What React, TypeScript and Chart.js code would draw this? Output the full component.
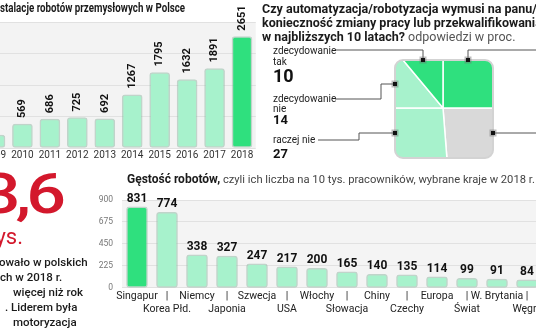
import React, { useEffect, useRef } from 'react';
import { Chart, registerables } from 'chart.js';

Chart.register(...registerables);

// ---------- data ----------
const installYears = ['2009', '2010', '2011', '2012', '2013', '2014', '2015', '2016', '2017', '2018'];
const installValues = [310, 569, 686, 725, 692, 1267, 1795, 1632, 1891, 2651];
const installGridTicks = [0, 750, 1500, 2250, 3000];

const densityCountries = ['Singapur', 'Korea Płd.', 'Niemcy', 'Japonia', 'Szwecja', 'USA', 'Włochy', 'Słowacja', 'Chiny', 'Czechy', 'Europa', 'Świat', 'W. Brytania', 'Węgry'];
const densityValues = [831, 774, 338, 327, 247, 217, 200, 165, 140, 135, 114, 99, 91, 84];
const densityTicks = [0, 225, 450, 675, 900];

const surveyAnswers = ['zdecydowanie tak', 'raczej tak', 'zdecydowanie nie', 'raczej nie', 'trudno powiedzieć'];
const surveyValues = [10, 25, 14, 27, 24];

// ---------- styles ----------
const GREEN = '#2fe07e';
const MINT = '#a7f2cc';
const CELL_GREY = '#d9d9d9';
const BAR_BORDER = 'rgba(150,185,168,0.55)';
const FONT = 'Roboto';

const panelBg = (color: string) => ({
  id: 'panelBg',
  beforeDraw(chart: any) {
    const { ctx, chartArea: a } = chart;
    ctx.save();
    ctx.fillStyle = color;
    ctx.fillRect(a.left, a.top, a.right - a.left, a.bottom - a.top);
    ctx.restore();
  },
});

function surveyLayout() {
  const [tak, rTak, zNie, rNie, trudno] = surveyValues;
  const total = surveyValues.reduce((s, v) => s + v, 0);
  const topShare = tak + rTak + zNie;
  const h = (topShare / total) * 100;
  const xb = 100 - (rTak / topShare) * 100;
  const t = xb - (2 * (tak / total) * 10000) / h;
  const xd = (rNie / (rNie + trudno)) * 100;
  return [
    { pts: [[t, 0], [xb, 0], [xb, h]], color: GREEN, anchor: [(t + xb) / 2, 0] },
    { pts: [[xb, 0], [100, 0], [100, h], [xb, h]], color: GREEN, anchor: [(xb + 100) / 2, 0] },
    { pts: [[0, 0], [t, 0], [xb, h], [0, h]], color: MINT, anchor: [0, h / 2] },
    { pts: [[0, h], [xb, h], [xd, 100], [0, 100]], color: MINT, anchor: [0, (h + 100) / 2] },
    { pts: [[xb, h], [100, h], [100, 100], [xd, 100]], color: CELL_GREY, anchor: [100, (h + 100) / 2] },
  ];
}

function InstallChart() {
  const ref = useRef<HTMLCanvasElement>(null);
  useEffect(() => {
    const labelsPlugin = {
      id: 'rotLabels',
      afterDatasetsDraw(chart: any) {
        const { ctx } = chart;
        const meta = chart.getDatasetMeta(0);
        meta.data.forEach((bar: any, i: number) => {
          ctx.save();
          ctx.translate(bar.x, bar.y - 6);
          ctx.rotate(-Math.PI / 2);
          ctx.font = `bold 11px ${FONT}`;
          ctx.fillStyle = '#111';
          ctx.textAlign = 'left';
          ctx.textBaseline = 'middle';
          ctx.fillText(String(installValues[i]), 0, 0);
          ctx.restore();
        });
      },
    };
    const chart = new Chart(ref.current as HTMLCanvasElement, {
      type: 'bar',
      data: {
        labels: installYears,
        datasets: [
          {
            data: installValues,
            backgroundColor: installValues.map((_, i) => (i === installValues.length - 1 ? GREEN : MINT)),
            borderColor: BAR_BORDER,
            borderWidth: 1.5,
            borderRadius: 3,
            borderSkipped: false,
            barThickness: 20,
          },
        ],
      },
      options: {
        responsive: false,
        animation: false,
        devicePixelRatio: 1,
        layout: { padding: { left: 11.25, right: 4.25, top: 22, bottom: 4 } },
        plugins: { legend: { display: false }, tooltip: { enabled: false } },
        scales: {
          x: {
            grid: { display: false, drawTicks: false },
            border: { display: false },
            ticks: { color: '#333', font: { family: FONT, size: 10 }, padding: 1, autoSkip: false, maxRotation: 0 },
          },
          y: {
            min: 0,
            max: 3000,
            afterBuildTicks: (s: any) => { s.ticks = installGridTicks.map((v) => ({ value: v })); },
            ticks: { display: false },
            grid: { color: '#e1e1e1', drawTicks: false },
            border: { display: false },
          },
        },
      },
      plugins: [panelBg('#f3f3f3'), labelsPlugin],
    } as any);
    return () => chart.destroy();
  }, []);
  return <canvas ref={ref} width={290} height={166} style={{ position: 'absolute', left: -30, top: 0 }} />;
}

function SurveyChart() {
  const ref = useRef<HTMLCanvasElement>(null);
  useEffect(() => {
    const cells = surveyLayout();
    const OX = 262, OY = 44;
    const framePlugin = {
      id: 'frame',
      beforeDatasetsDraw(chart: any) {
        const { ctx, chartArea: a } = chart;
        ctx.save();
        ctx.beginPath();
        ctx.roundRect(a.left, a.top, a.right - a.left, a.bottom - a.top, 8);
        ctx.clip();
      },
      afterDatasetsDraw(chart: any) {
        const { ctx, chartArea: a, scales } = chart;
        ctx.restore();
        ctx.save();
        ctx.strokeStyle = '#d3d3d3';
        ctx.lineWidth = 2;
        ctx.beginPath();
        ctx.roundRect(a.left, a.top, a.right - a.left, a.bottom - a.top, 8);
        ctx.stroke();
        const P = cells.map((c) => [scales.x.getPixelForValue(c.anchor[0]), scales.y.getPixelForValue(c.anchor[1])]);
        const px = (x: number) => x - OX;
        const py = (y: number) => y - OY;
        const paths: number[][][] = [
          [[px(335), py(50)], [P[0][0], py(50)], P[0]],
          [P[1], [P[1][0], py(50)], [px(540), py(50)]],
          [[px(335), py(99)], [px(381), py(99)], [px(381), P[2][1]], P[2]],
          [[px(318), py(140)], [px(359), py(140)], [px(359), P[3][1]], P[3]],
          [P[4], [px(540), P[4][1]]],
        ];
        ctx.strokeStyle = '#555';
        ctx.lineWidth = 1;
        paths.forEach((path) => {
          ctx.beginPath();
          path.forEach(([x, y], i) => (i === 0 ? ctx.moveTo(x, y) : ctx.lineTo(x, y)));
          ctx.stroke();
        });
        P.forEach(([x, y]) => {
          ctx.fillStyle = 'rgba(110,110,110,0.45)';
          ctx.fillRect(x - 3.5, y - 3.5, 7, 7);
          ctx.fillStyle = '#111';
          ctx.fillRect(x - 2, y - 2, 4, 4);
        });
        ctx.restore();
      },
    };
    const chart = new Chart(ref.current as HTMLCanvasElement, {
      type: 'scatter',
      data: {
        datasets: cells.map((c, i) => ({
          label: surveyAnswers[i],
          data: [...c.pts, c.pts[0]].map(([x, y]) => ({ x, y })),
          showLine: true,
          fill: 'shape',
          backgroundColor: c.color,
          borderColor: '#ffffff',
          borderWidth: 1.5,
          pointRadius: 0,
          tension: 0,
        })),
      },
      options: {
        responsive: false,
        animation: false,
        devicePixelRatio: 1,
        layout: { padding: { left: 133, right: 43, top: 16, bottom: 12 } },
        plugins: { legend: { display: false }, tooltip: { enabled: false } },
        scales: {
          x: { type: 'linear', min: 0, max: 100, display: false },
          y: { type: 'linear', min: 0, max: 100, reverse: true, display: false },
        },
      },
      plugins: [framePlugin],
    } as any);
    return () => chart.destroy();
  }, []);
  return <canvas ref={ref} width={274} height={126} style={{ position: 'absolute', left: 262, top: 44 }} />;
}

function DensityChart() {
  const ref = useRef<HTMLCanvasElement>(null);
  useEffect(() => {
    const valuePlugin = {
      id: 'valueLabels',
      afterDatasetsDraw(chart: any) {
        const { ctx } = chart;
        const meta = chart.getDatasetMeta(0);
        ctx.save();
        ctx.font = `bold 12px ${FONT}`;
        ctx.fillStyle = '#111';
        ctx.textAlign = 'center';
        ctx.textBaseline = 'bottom';
        meta.data.forEach((bar: any, i: number) => {
          ctx.fillText(String(densityValues[i]), bar.x, bar.y - 2);
        });
        ctx.restore();
      },
    };
    const chart = new Chart(ref.current as HTMLCanvasElement, {
      type: 'bar',
      data: {
        labels: densityCountries.map((c, i) => (i % 2 === 0 ? c : ['|', c])),
        datasets: [
          {
            data: densityValues,
            backgroundColor: densityValues.map((_, i) => (i === 0 ? GREEN : MINT)),
            borderColor: BAR_BORDER,
            borderWidth: 1.5,
            borderRadius: 3,
            borderSkipped: false,
            barThickness: 21,
          },
        ],
      },
      options: {
        responsive: false,
        animation: false,
        devicePixelRatio: 1,
        layout: { padding: { left: 0, right: 13, top: 15, bottom: 14 } },
        plugins: { legend: { display: false }, tooltip: { enabled: false } },
        scales: {
          x: {
            grid: { display: false, drawTicks: false },
            border: { display: false },
            ticks: {
              color: '#222',
              font: { family: FONT, size: 10.5, lineHeight: 1.24 },
              padding: 2,
              autoSkip: false,
              maxRotation: 0,
            },
          },
          y: {
            min: 0,
            max: 900,
            afterBuildTicks: (s: any) => { s.ticks = densityTicks.map((v) => ({ value: v })); },
            afterFit: (s: any) => { s.width = 27; },
            ticks: { color: '#777', font: { family: FONT, size: 8.5 }, padding: 9 },
            grid: { color: '#e1e1e1', drawTicks: false },
            border: { display: false },
          },
        },
      },
      plugins: [panelBg('#f4f4f4'), valuePlugin],
    } as any);
    return () => chart.destroy();
  }, []);
  return <canvas ref={ref} width={460} height={147} style={{ position: 'absolute', left: 95, top: 185 }} />;
}

const abs = (left: number, top: number, extra: any = {}) => ({
  position: 'absolute' as const,
  left,
  top,
  whiteSpace: 'nowrap' as const,
  fontFamily: FONT,
  ...extra,
});

export default function App() {
  const titleLine = { fontSize: 12.5, lineHeight: '14px', fontWeight: 700, color: '#1a1a1a' };
  const small = { fontSize: 10, lineHeight: '11px', color: '#222' };
  const para = { fontSize: 11.5, lineHeight: '15px', fontWeight: 500, color: '#1a1a1a' };
  return (
    <div style={{ position: 'fixed', left: 0, top: 0, width: 536, height: 332, overflow: 'hidden', background: '#fff', fontFamily: FONT }}>
      <InstallChart />
      <SurveyChart />
      <DensityChart />

      {/* top-left title */}
      <div style={abs(0, 1, { ...titleLine, fontSize: 13, transform: 'scaleX(0.75)', transformOrigin: 'left center' })}>
        <span style={{ position: 'absolute', right: '100%' }}>In</span>stalacje robotów przemysłowych w Polsce
      </div>

      {/* top-right title */}
      <div style={abs(262, 2, titleLine)}>Czy automatyzacja/robotyzacja wymusi na panu/pani</div>
      <div style={abs(262, 16, titleLine)}>konieczność zmiany pracy lub przekwalifikowania się</div>
      <div style={abs(262, 30, titleLine)}>
        w najbliższych 10 latach?<span style={{ fontWeight: 400, color: '#555' }}> odpowiedzi w proc.</span>
      </div>

      {/* survey labels */}
      <div style={abs(273, 45, small)}>zdecydowanie</div>
      <div style={abs(273, 56, small)}>tak</div>
      <div style={abs(273, 67, { fontSize: 18, lineHeight: '18px', fontWeight: 700, color: '#111' })}>{surveyValues[0]}</div>
      <div style={abs(273, 93, small)}>zdecydowanie</div>
      <div style={abs(273, 103, small)}>nie</div>
      <div style={abs(273, 113, { fontSize: 13, lineHeight: '13px', fontWeight: 700, color: '#111' })}>{surveyValues[2]}</div>
      <div style={abs(273, 134, small)}>raczej nie</div>
      <div style={abs(273, 147, { fontSize: 13, lineHeight: '13px', fontWeight: 700, color: '#111' })}>{surveyValues[3]}</div>

      {/* big number */}
      <div style={abs(0, 166, { left: 'auto', right: 536 - 61, fontSize: 56, lineHeight: '56px', fontWeight: 500, letterSpacing: '-4px', color: '#d3182c', transform: 'scaleX(1.25)', transformOrigin: 'right center' })}>13,6</div>
      <div style={abs(0, 226, { left: 'auto', right: 536 - 23, fontSize: 22, lineHeight: '22px', fontWeight: 400, color: '#d3182c' })}>tys.</div>

      {/* paragraph */}
      <div style={abs(-1, 255, para)}>owało w polskich</div>
      <div style={abs(0, 270, para)}>ch w 2018 r.</div>
      <div style={abs(13, 285, para)}>więcej niż rok</div>
      <div style={abs(5, 300, para)}>. Liderem była</div>
      <div style={abs(13, 315, para)}>motoryzacja</div>

      {/* bottom title */}
      <div style={abs(127, 172, { fontSize: 12, lineHeight: '14px', fontWeight: 700, color: '#1a1a1a' })}>
        Gęstość robotów,<span style={{ fontWeight: 400, fontSize: 11.2, color: '#444' }}> czyli ich liczba na 10 tys. pracowników, wybrane kraje w 2018 r.</span>
      </div>
    </div>
  );
}
